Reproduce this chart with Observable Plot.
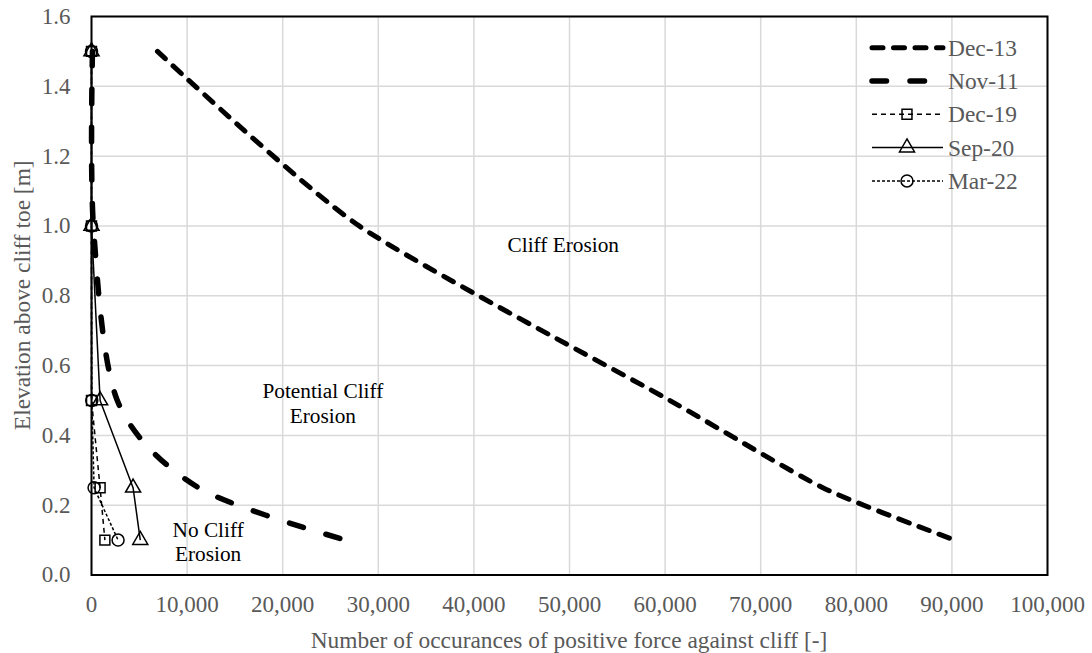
<!DOCTYPE html>
<html>
<head>
<meta charset="utf-8">
<script src="https://cdn.jsdelivr.net/npm/d3@7"></script>
<script src="https://cdn.jsdelivr.net/npm/@observablehq/plot@0.6"></script>
<style>
  html, body { margin: 0; padding: 0; background: #fff; }
  #chart { width: 1092px; height: 653px; }
  #chart svg text, #chart svg tspan { font-family: "Liberation Serif", "Times New Roman", serif !important; }
</style>
</head>
<body>
<div id="chart"></div>
<script>
// ---------- data ----------
const seriesNames = ["Dec-13", "Nov-11", "Dec-19", "Sep-20", "Mar-22"];
const elevations = [1.5, 1.0, 0.5, 0.25, 0.1];
const dec13 = [6900, 28000, 60500, 76500, 90300];
const nov11 = [100, 200, 2700, 11200, 26600];
const dec19 = [0, 0, 0, 900, 1400];
const sep20 = [0, 0, 900, 4350, 5100];
const mar22 = [0, 0, 30, 270, 2780];
const xTickValues = [0, 10000, 20000, 30000, 40000, 50000, 60000, 70000, 80000, 90000, 100000];
const yTickValues = [0.0, 0.2, 0.4, 0.6, 0.8, 1.0, 1.2, 1.4, 1.6];
const annotationLabels = ["Cliff Erosion", "Potential Cliff\nErosion", "No Cliff\nErosion"];
const annotationX = [49350, 24200, 12200];
const annotationY = [0.947, 0.494, 0.097];
const xTitle = "Number of occurances of positive force against cliff [-]";
const yTitle = "Elevation above cliff toe [m]";

// ---------- build table ----------
const seriesValues = [dec13, nov11, dec19, sep20, mar22];
const table = seriesNames.flatMap((name, i) =>
  elevations.map((e, j) => ({series: name, x: seriesValues[i][j], y: e})));
const annotations = annotationLabels.map((t, i) => ({text: t, x: annotationX[i], y: annotationY[i]}));

// ---------- styles ----------
const styles = {
  "Dec-13": {strokeWidth: 5, dash: "11,10.5", cap: "round", curve: "cardinal", tension: 0.35},
  "Nov-11": {strokeWidth: 5.5, dash: "14.5,23.5", cap: "round", curve: "cardinal", tension: 0.15},
  "Dec-19": {strokeWidth: 1.5, dash: "5,4", cap: "butt", curve: "linear", symbol: "square", r: 5.6},
  "Sep-20": {strokeWidth: 1.5, dash: null, cap: "butt", curve: "linear", symbol: "triangle", r: 5.6},
  "Mar-22": {strokeWidth: 1.5, dash: "3,2", cap: "butt", curve: "linear", symbol: "circle", r: 6}
};

const W = 1092, H = 653;
const mL = 91, mR = 45, mT = 16, mB = 78.5;
const gray = "#595959";
const font = "'Liberation Serif', 'Times New Roman', serif";

const seriesMarks = seriesNames.flatMap(name => {
  const s = styles[name];
  const d = table.filter(r => r.series === name);
  const opts = {
    x: "x", y: "y", stroke: "black", strokeWidth: s.strokeWidth,
    strokeDasharray: s.dash || undefined, strokeLinecap: s.cap, strokeLinejoin: "round",
    curve: s.curve
  };
  if (s.tension !== undefined) opts.tension = s.tension;
  const marks = [Plot.line(d, opts)];
  if (s.symbol) {
    marks.push(Plot.dot(d, {x: "x", y: "y", symbol: () => s.symbol, r: s.r,
      stroke: "black", strokeWidth: 1.5, fill: "none"}));
  }
  return marks;
});

const chart = Plot.plot({
  width: W, height: H,
  marginLeft: mL, marginRight: mR, marginTop: mT, marginBottom: mB,
  style: {fontFamily: font, fontSize: "23px", color: gray, background: "white", overflow: "visible"},
  x: {domain: [0, 100000]},
  y: {domain: [0, 1.6]},
  marks: [
    Plot.gridX(xTickValues, {stroke: "#d9d9d9", strokeOpacity: 1, strokeWidth: 1.5}),
    Plot.gridY(yTickValues, {stroke: "#d9d9d9", strokeOpacity: 1, strokeWidth: 1.5}),
    Plot.axisX(xTickValues, {tickSize: 0, tickPadding: 21, tickFormat: d3.format(","), label: null,
      fill: gray, fontSize: 23}),
    Plot.axisY(yTickValues, {tickSize: 0, tickPadding: 21, tickFormat: d3.format(".1f"), label: null,
      fill: gray, fontSize: 23}),
    ...seriesMarks,
    Plot.text(annotations, {x: "x", y: "y", text: "text", fill: "black", fontSize: 21.3,
      lineHeight: 1.15, textAnchor: "middle", lineAnchor: "middle"}),
    Plot.frame({stroke: "black", strokeWidth: 2})
  ]
});

document.getElementById("chart").appendChild(chart);

// ---------- titles & legend (layout) ----------
const svg = d3.select(chart);
const plotCX = mL + (W - mL - mR) / 2;
const plotCY = mT + (H - mT - mB) / 2;

svg.append("text")
  .attr("x", plotCX).attr("y", 648)
  .attr("text-anchor", "middle")
  .attr("fill", gray).attr("font-size", 23.4)
  .text(xTitle);

svg.append("text")
  .attr("transform", `translate(22,${plotCY}) rotate(-90)`)
  .attr("text-anchor", "middle").attr("dy", "0.35em")
  .attr("fill", gray).attr("font-size", 23.4)
  .text(yTitle);

const legend = svg.append("g");
const lx0 = 872, lx1 = 943, lxm = 907, ltx = 948;
const rowY0 = 47.7, rowStep = 33.3;
seriesNames.forEach((name, i) => {
  const s = styles[name];
  const y = rowY0 + i * rowStep;
  legend.append("line")
    .attr("x1", lx0).attr("x2", lx1).attr("y1", y).attr("y2", y)
    .attr("stroke", "black").attr("stroke-width", s.strokeWidth)
    .attr("stroke-dasharray", s.dash || null)
    .attr("stroke-linecap", s.cap);
  if (s.symbol) {
    const sym = {square: d3.symbolSquare, triangle: d3.symbolTriangle, circle: d3.symbolCircle}[s.symbol];
    legend.append("path")
      .attr("d", d3.symbol(sym, Math.PI * s.r * s.r)())
      .attr("transform", `translate(${lxm},${y})`)
      .attr("fill", "none").attr("stroke", "black").attr("stroke-width", 1.5);
  }
  legend.append("text")
    .attr("x", ltx).attr("y", y).attr("dy", "0.35em")
    .attr("text-anchor", "start")
    .attr("fill", gray).attr("font-size", 23.4)
    .text(name);
});
</script>
</body>
</html>
